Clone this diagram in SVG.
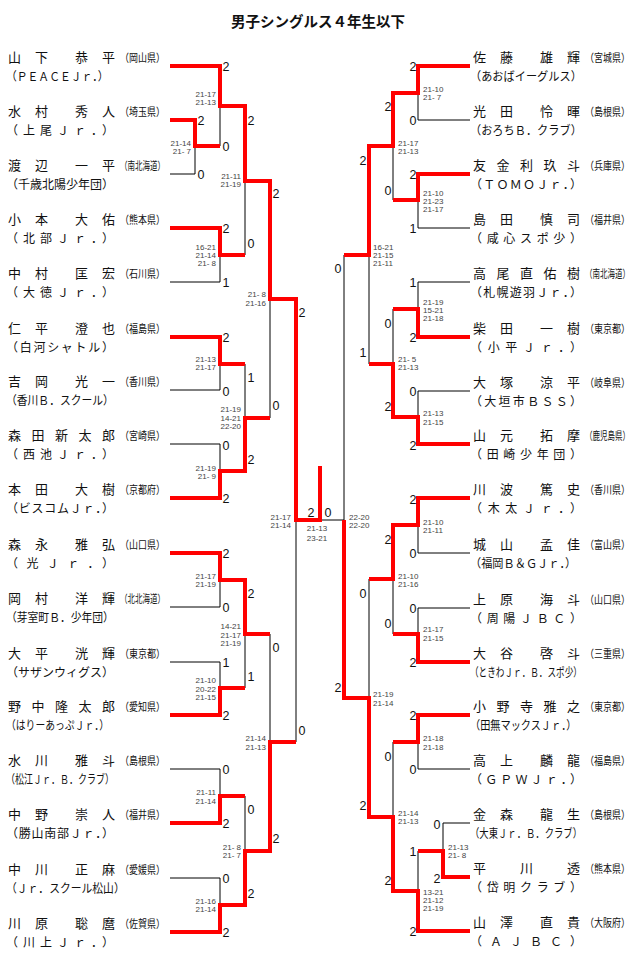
<svg xmlns="http://www.w3.org/2000/svg" width="632" height="962" viewBox="0 0 632 962">
<style>
.r{fill:none;stroke:#ff0000;stroke-width:4;stroke-linejoin:miter;stroke-linecap:butt}
.k{fill:none;stroke:#000;stroke-width:1}
.jp{font-family:"Noto Sans CJK JP","Noto Sans CJK SC",sans-serif;fill:#111}
.nm{font-size:13px}
.tm{font-size:12px}
.pf{font-size:11px}
.sc{font-family:"Liberation Sans",Arial,sans-serif;font-size:12.5px;fill:#111;text-anchor:middle}
.ms{font-family:"Liberation Sans",Arial,sans-serif;font-size:8px;fill:#444}
.e{text-anchor:end}
.m{text-anchor:middle}
.t{font-family:"Noto Sans CJK JP","Noto Sans CJK SC",sans-serif;font-size:14.5px;font-weight:bold;fill:#111;text-anchor:middle}
</style>
<rect width="632" height="962" fill="#fff"/>
<text class="t" x="318" y="27">男子シングルス４年生以下</text>

<g id="connectors">
<g id="losers">
<path class="k" d="M170,174 H195 V146"/>
<path class="k" d="M220,146 V106"/>
<path class="k" d="M170,282 H220 V255"/>
<path class="k" d="M245,255 V181"/>
<path class="k" d="M170,390 H220 V364"/>
<path class="k" d="M170,444 H220 V471"/>
<path class="k" d="M245,364 V418"/>
<path class="k" d="M270,418 V299"/>
<path class="k" d="M170,607 H220 V580"/>
<path class="k" d="M170,662 H220 V688"/>
<path class="k" d="M245,688 V634"/>
<path class="k" d="M170,769 H220 V796"/>
<path class="k" d="M170,878 H220 V905"/>
<path class="k" d="M245,796 V851"/>
<path class="k" d="M270,634 V742"/>
<path class="k" d="M296,742 V520"/>
<path class="k" d="M320,520 H344"/>
<path class="k" d="M470,120 H418 V93"/>
<path class="k" d="M470,228 H418 V200"/>
<path class="k" d="M393,200 V146"/>
<path class="k" d="M470,282 H418 V309"/>
<path class="k" d="M470,391 H418 V417"/>
<path class="k" d="M393,309 V364"/>
<path class="k" d="M369,364 V255"/>
<path class="k" d="M344,255 V520"/>
<path class="k" d="M470,553 H418 V525"/>
<path class="k" d="M470,608 H418 V634"/>
<path class="k" d="M393,634 V579"/>
<path class="k" d="M369,579 V698"/>
<path class="k" d="M470,769 H418 V742"/>
<path class="k" d="M470,823 H443 V851"/>
<path class="k" d="M418,851 V891"/>
<path class="k" d="M393,742 V817"/>
</g>
<g id="winners">
<path class="r" d="M170,66 H220 V106 H245 V181 H270 V299 H296 V520 H320 V466"/>
<path class="r" d="M170,120 H195 V146 H220"/>
<path class="r" d="M170,228 H220 V255 H245"/>
<path class="r" d="M170,337 H220 V364 H245"/>
<path class="r" d="M170,498 H220 V471 H245 V418 H270"/>
<path class="r" d="M170,553 H220 V580 H245 V634 H270"/>
<path class="r" d="M170,715 H220 V688 H245"/>
<path class="r" d="M170,823 H220 V796 H245"/>
<path class="r" d="M170,932 H220 V905 H245 V851 H270 V742 H296"/>
<path class="r" d="M470,66 H418 V93 H393 V146 H369 V255 H344"/>
<path class="r" d="M470,174 H418 V200 H393"/>
<path class="r" d="M470,337 H418 V309 H393"/>
<path class="r" d="M470,444 H418 V417 H393 V364 H369"/>
<path class="r" d="M470,498 H418 V525 H393 V579 H369"/>
<path class="r" d="M470,662 H418 V634 H393"/>
<path class="r" d="M470,715 H418 V742 H393"/>
<path class="r" d="M470,877 H443 V851 H418"/>
<path class="r" d="M470,931 H418 V891 H393 V817 H369 V698 H344 V520"/>
</g>
</g>

<g id="scores">
<g id="game-scores">
<text class="sc" x="201" y="124.5">2</text><text class="sc" x="201" y="178.5">0</text>
<text class="sc" x="226" y="70.5">2</text><text class="sc" x="226" y="150.5">0</text>
<text class="sc" x="226" y="232.5">2</text><text class="sc" x="226" y="286.5">1</text>
<text class="sc" x="251" y="124.5">2</text><text class="sc" x="251" y="247.5">0</text>
<text class="sc" x="226" y="341.5">2</text><text class="sc" x="226" y="395.5">0</text>
<text class="sc" x="226" y="449.5">0</text><text class="sc" x="226" y="502.5">2</text>
<text class="sc" x="251" y="381.5">1</text><text class="sc" x="251" y="463.5">2</text>
<text class="sc" x="276" y="197.5">2</text><text class="sc" x="276" y="409.5">0</text>
<text class="sc" x="226" y="557.5">2</text><text class="sc" x="226" y="611.5">0</text>
<text class="sc" x="226" y="666.5">1</text><text class="sc" x="226" y="719.5">2</text>
<text class="sc" x="251" y="597.5">2</text><text class="sc" x="251" y="680.5">1</text>
<text class="sc" x="226" y="773.5">0</text><text class="sc" x="226" y="827.5">2</text>
<text class="sc" x="226" y="882.5">0</text><text class="sc" x="226" y="936.5">2</text>
<text class="sc" x="251" y="813.5">0</text><text class="sc" x="251" y="897.5">2</text>
<text class="sc" x="276" y="651.5">0</text><text class="sc" x="276" y="842.5">2</text>
<text class="sc" x="302" y="316.5">2</text><text class="sc" x="302" y="734.5">0</text>
<text class="sc" x="311" y="516.5">2</text><text class="sc" x="328" y="516.5">0</text>
<text class="sc" x="413" y="70.5">2</text><text class="sc" x="413" y="124.5">0</text>
<text class="sc" x="413" y="178.5">2</text><text class="sc" x="413" y="232.5">1</text>
<text class="sc" x="388" y="110.5">2</text><text class="sc" x="388" y="194.5">0</text>
<text class="sc" x="413" y="286.5">1</text><text class="sc" x="413" y="341.5">2</text>
<text class="sc" x="413" y="395.5">0</text><text class="sc" x="413" y="449.5">2</text>
<text class="sc" x="388" y="327.5">0</text><text class="sc" x="388" y="410.5">2</text>
<text class="sc" x="363" y="164.5">2</text><text class="sc" x="363" y="356.5">1</text>
<text class="sc" x="413" y="503.5">2</text><text class="sc" x="413" y="557.5">0</text>
<text class="sc" x="413" y="612.5">0</text><text class="sc" x="413" y="666.5">2</text>
<text class="sc" x="388" y="543.5">2</text><text class="sc" x="388" y="627.5">0</text>
<text class="sc" x="413" y="719.5">2</text><text class="sc" x="413" y="773.5">0</text>
<text class="sc" x="437" y="828.5">0</text><text class="sc" x="437" y="882.5">2</text>
<text class="sc" x="413" y="855.5">1</text><text class="sc" x="413" y="935.5">2</text>
<text class="sc" x="388" y="760.5">0</text><text class="sc" x="388" y="884.5">2</text>
<text class="sc" x="363" y="597.5">0</text><text class="sc" x="363" y="809.5">2</text>
<text class="sc" x="338" y="272.5">0</text><text class="sc" x="338" y="691.5">2</text>
</g>
<g id="match-scores">
<text class="ms e" x="191" y="146">21-14<tspan x="191" dy="8">21- 7</tspan></text>
<text class="ms e" x="216" y="97">21-17<tspan x="216" dy="8">21-13</tspan></text>
<text class="ms e" x="216" y="250">16-21<tspan x="216" dy="8">21-14</tspan><tspan x="216" dy="8">21- 8</tspan></text>
<text class="ms e" x="241" y="179">21-11<tspan x="241" dy="8">21-19</tspan></text>
<text class="ms e" x="216" y="362">21-13<tspan x="216" dy="8">21-17</tspan></text>
<text class="ms e" x="216" y="471">21-19<tspan x="216" dy="8">21- 9</tspan></text>
<text class="ms e" x="241" y="412">21-19<tspan x="241" dy="8.5">14-21</tspan><tspan x="241" dy="8.5">22-20</tspan></text>
<text class="ms e" x="266" y="297">21- 8<tspan x="266" dy="8.5">21-16</tspan></text>
<text class="ms e" x="216" y="579">21-17<tspan x="216" dy="8">21-19</tspan></text>
<text class="ms e" x="216" y="683">21-10<tspan x="216" dy="8.5">20-22</tspan><tspan x="216" dy="8.5">21-15</tspan></text>
<text class="ms e" x="241" y="629">14-21<tspan x="241" dy="8.5">21-17</tspan><tspan x="241" dy="8.5">21-19</tspan></text>
<text class="ms e" x="216" y="795">21-11<tspan x="216" dy="8.5">21-14</tspan></text>
<text class="ms e" x="216" y="904">21-16<tspan x="216" dy="8">21-14</tspan></text>
<text class="ms e" x="241" y="850">21- 8<tspan x="241" dy="8">21- 7</tspan></text>
<text class="ms e" x="266" y="741">21-14<tspan x="266" dy="8.5">21-13</tspan></text>
<text class="ms e" x="291" y="520">21-17<tspan x="291" dy="8">21-14</tspan></text>
<text class="ms m" x="317" y="531">21-13<tspan x="317" dy="10">23-21</tspan></text>
<text class="ms" x="349" y="520">22-20<tspan x="349" dy="8">22-20</tspan></text>
<text class="ms" x="423" y="92">21-10<tspan x="423" dy="8">21- 7</tspan></text>
<text class="ms" x="423" y="196">21-10<tspan x="423" dy="8">21-23</tspan><tspan x="423" dy="8">21-17</tspan></text>
<text class="ms" x="398" y="146">21-17<tspan x="398" dy="8">21-13</tspan></text>
<text class="ms" x="423" y="305">21-19<tspan x="423" dy="8">15-21</tspan><tspan x="423" dy="8">21-18</tspan></text>
<text class="ms" x="423" y="416">21-13<tspan x="423" dy="8.5">21-15</tspan></text>
<text class="ms" x="398" y="362">21- 5<tspan x="398" dy="8">21-13</tspan></text>
<text class="ms" x="373" y="250">16-21<tspan x="373" dy="8">21-15</tspan><tspan x="373" dy="8">21-11</tspan></text>
<text class="ms" x="423" y="525">21-10<tspan x="423" dy="8">21-11</tspan></text>
<text class="ms" x="423" y="632">21-17<tspan x="423" dy="8.5">21-15</tspan></text>
<text class="ms" x="398" y="579">21-10<tspan x="398" dy="8">21-16</tspan></text>
<text class="ms" x="423" y="741">21-18<tspan x="423" dy="8.5">21-18</tspan></text>
<text class="ms" x="448" y="850">21-13<tspan x="448" dy="8">21- 8</tspan></text>
<text class="ms" x="423" y="895">13-21<tspan x="423" dy="8">21-12</tspan><tspan x="423" dy="8">21-19</tspan></text>
<text class="ms" x="398" y="816">21-14<tspan x="398" dy="8">21-13</tspan></text>
<text class="ms" x="373" y="697">21-19<tspan x="373" dy="8.5">21-14</tspan></text>
</g>
</g>

<g id="players-left">
<g id="L1"><text class="jp nm" x="8 35 75 102" y="62">山下恭平</text><text class="jp pf" transform="translate(120,62) scale(0.818,1)">（岡山県）</text><text class="jp tm" transform="translate(6,80.5) scale(0.9,1)">（ＰＥＡＣＥＪｒ．）</text></g>
<g id="L2"><text class="jp nm" x="8 35 75 102" y="116">水村秀人</text><text class="jp pf" transform="translate(120,116) scale(0.818,1)">（埼玉県）</text><text class="jp tm" x="6" y="134.5" textLength="108" lengthAdjust="spacing">（上尾Ｊｒ．）</text></g>
<g id="L3"><text class="jp nm" x="8 35 75 102" y="170">渡辺一平</text><text class="jp pf" transform="translate(120,170) scale(0.682,1)">（南北海道）</text><text class="jp tm" x="6" y="188.5">（千歳北陽少年団）</text></g>
<g id="L4"><text class="jp nm" x="8 35 75 102" y="224">小本大佑</text><text class="jp pf" transform="translate(120,224) scale(0.818,1)">（熊本県）</text><text class="jp tm" x="6" y="242.5" textLength="108" lengthAdjust="spacing">（北部Ｊｒ．）</text></g>
<g id="L5"><text class="jp nm" x="8 35 75 102" y="278">中村匡宏</text><text class="jp pf" transform="translate(120,278) scale(0.818,1)">（石川県）</text><text class="jp tm" x="6" y="296.5" textLength="108" lengthAdjust="spacing">（大徳Ｊｒ．）</text></g>
<g id="L6"><text class="jp nm" x="8 35 75 102" y="333">仁平澄也</text><text class="jp pf" transform="translate(120,333) scale(0.818,1)">（福島県）</text><text class="jp tm" x="6" y="351.5" textLength="108" lengthAdjust="spacing">（白河シャトル）</text></g>
<g id="L7"><text class="jp nm" x="8 35 75 102" y="386">吉岡光一</text><text class="jp pf" transform="translate(120,386) scale(0.818,1)">（香川県）</text><text class="jp tm" transform="translate(6,404.5) scale(0.9,1)">（香川Ｂ．スクール）</text></g>
<g id="L8"><text class="jp nm" x="8 31.5 55 78.5 102" y="440">森田新太郎</text><text class="jp pf" transform="translate(120,440) scale(0.818,1)">（宮崎県）</text><text class="jp tm" x="6" y="458.5" textLength="108" lengthAdjust="spacing">（西池Ｊｒ．）</text></g>
<g id="L9"><text class="jp nm" x="8 35 75 102" y="494">本田大樹</text><text class="jp pf" transform="translate(120,494) scale(0.818,1)">（京都府）</text><text class="jp tm" x="6" y="512.5" textLength="108" lengthAdjust="spacing">（ビスコムＪｒ．）</text></g>
<g id="L10"><text class="jp nm" x="8 35 75 102" y="549">森永雅弘</text><text class="jp pf" transform="translate(120,549) scale(0.818,1)">（山口県）</text><text class="jp tm" x="6" y="567.5" textLength="108" lengthAdjust="spacing">（光Ｊｒ．）</text></g>
<g id="L11"><text class="jp nm" x="8 35 75 102" y="603">岡村洋輝</text><text class="jp pf" transform="translate(120,603) scale(0.682,1)">（北北海道）</text><text class="jp tm" transform="translate(6,621.5) scale(0.9,1)">（芽室町Ｂ．少年団）</text></g>
<g id="L12"><text class="jp nm" x="8 35 75 102" y="658">大平洸輝</text><text class="jp pf" transform="translate(120,658) scale(0.818,1)">（東京都）</text><text class="jp tm" x="6" y="676.5">（サザンウィグス）</text></g>
<g id="L13"><text class="jp nm" x="8 31.5 55 78.5 102" y="711">野中隆太郎</text><text class="jp pf" transform="translate(120,711) scale(0.818,1)">（愛知県）</text><text class="jp tm" transform="translate(6,729.5) scale(0.818,1)">（はりーあっぷＪｒ．）</text></g>
<g id="L14"><text class="jp nm" x="8 35 75 102" y="765">水川雅斗</text><text class="jp pf" transform="translate(120,765) scale(0.818,1)">（島根県）</text><text class="jp tm" transform="translate(6,783.5) scale(0.75,1)">（松江Ｊｒ．Ｂ．クラブ）</text></g>
<g id="L15"><text class="jp nm" x="8 35 75 102" y="819">中野崇人</text><text class="jp pf" transform="translate(120,819) scale(0.818,1)">（福井県）</text><text class="jp tm" x="6" y="837.5" textLength="108" lengthAdjust="spacing">（勝山南部Ｊｒ．）</text></g>
<g id="L16"><text class="jp nm" x="8 35 75 102" y="874">中川正麻</text><text class="jp pf" transform="translate(120,874) scale(0.818,1)">（愛媛県）</text><text class="jp tm" transform="translate(6,892.5) scale(0.9,1)">（Ｊｒ．スクール松山）</text></g>
<g id="L17"><text class="jp nm" x="8 35 75 102" y="928">川原聡麿</text><text class="jp pf" transform="translate(120,928) scale(0.818,1)">（佐賀県）</text><text class="jp tm" x="6" y="946.5" textLength="108" lengthAdjust="spacing">（川上Ｊｒ．）</text></g>
</g>

<g id="players-right">
<g id="R1"><text class="jp nm" x="473 500 540 567" y="62">佐藤雄輝</text><text class="jp pf" transform="translate(585,62) scale(0.818,1)">（宮城県）</text><text class="jp tm" transform="translate(470,80.5) scale(0.933,1)">（あおばイーグルス）</text></g>
<g id="R2"><text class="jp nm" x="473 500 540 567" y="116">光田怜暉</text><text class="jp pf" transform="translate(585,116) scale(0.818,1)">（島根県）</text><text class="jp tm" transform="translate(470,134.5) scale(0.933,1)">（おろちＢ．クラブ）</text></g>
<g id="R3"><text class="jp nm" x="473 496.5 520 543.5 567" y="170">友金利玖斗</text><text class="jp pf" transform="translate(585,170) scale(0.818,1)">（兵庫県）</text><text class="jp tm" x="470" y="188.5" textLength="112" lengthAdjust="spacing">（ＴＯＭＯＪｒ．）</text></g>
<g id="R4"><text class="jp nm" x="473 500 540 567" y="224">島田慎司</text><text class="jp pf" transform="translate(585,224) scale(0.818,1)">（福井県）</text><text class="jp tm" x="470" y="242.5" textLength="112" lengthAdjust="spacing">（咸心スポ少）</text></g>
<g id="R5"><text class="jp nm" x="473 496.5 520 543.5 567" y="278">高尾直佑樹</text><text class="jp pf" transform="translate(585,278) scale(0.682,1)">（南北海道）</text><text class="jp tm" x="470" y="296.5" textLength="112" lengthAdjust="spacing">（札幌遊羽Ｊｒ．）</text></g>
<g id="R6"><text class="jp nm" x="473 500 540 567" y="333">柴田一樹</text><text class="jp pf" transform="translate(585,333) scale(0.818,1)">（東京都）</text><text class="jp tm" x="470" y="351.5" textLength="112" lengthAdjust="spacing">（小平Ｊｒ．）</text></g>
<g id="R7"><text class="jp nm" x="473 500 540 567" y="387">大塚涼平</text><text class="jp pf" transform="translate(585,387) scale(0.818,1)">（岐阜県）</text><text class="jp tm" x="470" y="405.5" textLength="112" lengthAdjust="spacing">（大垣市ＢＳＳ）</text></g>
<g id="R8"><text class="jp nm" x="473 500 540 567" y="440">山元拓摩</text><text class="jp pf" transform="translate(585,440) scale(0.682,1)">（鹿児島県）</text><text class="jp tm" x="470" y="458.5" textLength="112" lengthAdjust="spacing">（田崎少年団）</text></g>
<g id="R9"><text class="jp nm" x="473 500 540 567" y="494">川波篤史</text><text class="jp pf" transform="translate(585,494) scale(0.818,1)">（香川県）</text><text class="jp tm" x="470" y="512.5" textLength="112" lengthAdjust="spacing">（木太Ｊｒ．）</text></g>
<g id="R10"><text class="jp nm" x="473 500 540 567" y="549">城山孟佳</text><text class="jp pf" transform="translate(585,549) scale(0.818,1)">（富山県）</text><text class="jp tm" transform="translate(470,567.5) scale(0.933,1)">（福岡Ｂ＆ＧＪｒ．）</text></g>
<g id="R11"><text class="jp nm" x="473 500 540 567" y="604">上原海斗</text><text class="jp pf" transform="translate(585,604) scale(0.818,1)">（山口県）</text><text class="jp tm" x="470" y="622.5" textLength="112" lengthAdjust="spacing">（周陽ＪＢＣ）</text></g>
<g id="R12"><text class="jp nm" x="473 500 540 567" y="658">大谷啓斗</text><text class="jp pf" transform="translate(585,658) scale(0.818,1)">（三重県）</text><text class="jp tm" transform="translate(470,676.5) scale(0.718,1)">（ときわＪｒ．Ｂ．スポ少）</text></g>
<g id="R13"><text class="jp nm" x="473 496.5 520 543.5 567" y="711">小野寺雅之</text><text class="jp pf" transform="translate(585,711) scale(0.818,1)">（東京都）</text><text class="jp tm" transform="translate(470,729.5) scale(0.848,1)">（田無マックスＪｒ．）</text></g>
<g id="R14"><text class="jp nm" x="473 500 540 567" y="765">高上麟龍</text><text class="jp pf" transform="translate(585,765) scale(0.818,1)">（福島県）</text><text class="jp tm" x="470" y="783.5" textLength="112" lengthAdjust="spacing">（ＧＰＷＪｒ．）</text></g>
<g id="R15"><text class="jp nm" x="473 500 540 567" y="819">金森龍生</text><text class="jp pf" transform="translate(585,819) scale(0.818,1)">（島根県）</text><text class="jp tm" transform="translate(470,837.5) scale(0.778,1)">（大東Ｊｒ．Ｂ．クラブ）</text></g>
<g id="R16"><text class="jp nm" x="473 520 567" y="873">平川透</text><text class="jp pf" transform="translate(585,873) scale(0.818,1)">（熊本県）</text><text class="jp tm" x="470" y="891.5" textLength="112" lengthAdjust="spacing">（岱明クラブ）</text></g>
<g id="R17"><text class="jp nm" x="473 500 540 567" y="927">山澤直貴</text><text class="jp pf" transform="translate(585,927) scale(0.818,1)">（大阪府）</text><text class="jp tm" x="470" y="945.5" textLength="112" lengthAdjust="spacing">（ＡＪＢＣ）</text></g>
</g>
</svg>
